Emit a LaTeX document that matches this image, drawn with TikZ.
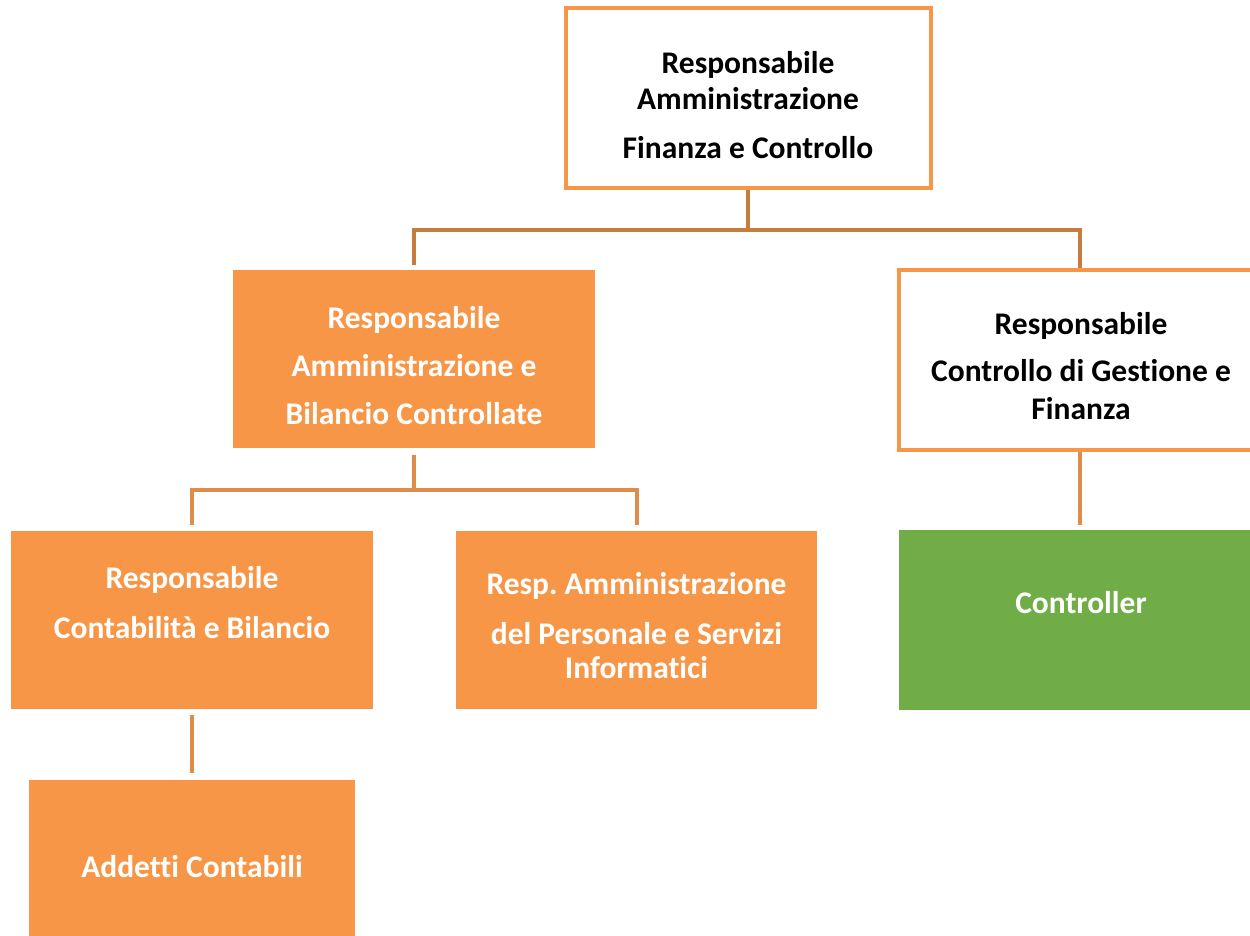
\documentclass[tikz,border=0pt]{standalone}
\usepackage{fontspec}
\setmainfont{Carlito}[Ligatures=NoCommon]
\frenchspacing
\definecolor{boxorange}{HTML}{F79646}
\definecolor{boxgreen}{HTML}{70AD47}
\definecolor{conndark}{HTML}{C77C3E}
\definecolor{connlight}{HTML}{DE8C4A}
\begin{document}
\begin{tikzpicture}[x=1pt,y=-1pt,
  outlinebox/.style={draw=boxorange,line width=4pt,fill=white,rectangle,inner sep=0pt},
  fillbox/.style={fill=boxorange,rectangle,inner sep=0pt},
  greenbox/.style={fill=boxgreen,rectangle,inner sep=0pt},
  lbl/.style={font=\fontsize{31.5}{36}\selectfont\bfseries,align=center,inner sep=0pt},
  conn/.style={draw=conndark,line width=4pt},
  connl/.style={draw=connlight,line width=4pt}]
\useasboundingbox (0,0) rectangle (1250,936);
% boxes
\node[outlinebox,minimum width=365pt,minimum height=180pt] (top) at (748,98.5) {};
\node[fillbox,minimum width=362pt,minimum height=178pt] (b2) at (414,359) {};
\node[outlinebox,minimum width=362pt,minimum height=180pt] (b3) at (1080,360) {};
\node[fillbox,minimum width=362pt,minimum height=178pt] (b4) at (192,620) {};
\node[fillbox,minimum width=361pt,minimum height=178pt] (b5) at (636.5,620) {};
\node[greenbox,minimum width=362pt,minimum height=180pt] (b6) at (1080,620) {};
\node[fillbox,minimum width=326pt,minimum height=178pt] (b7) at (192,869) {};
% labels
\node[lbl] (t1) at (748,105) {Responsabile\\Amministrazione\\[13pt]Finanza e Controllo};
\node[lbl,text=white] (t2) at (414,366) {Responsabile\\[12pt]Amministrazione e\\[12pt]Bilancio Controllate};
\node[lbl] (t3) at (1081,366) {Responsabile\\[11pt]Controllo di Gestione e\\[2pt]Finanza};
\node[lbl,text=white] (t4) at (192,603) {Responsabile\\[14pt]Contabilità e Bilancio};
\node[lbl,text=white] (t5) at (636.5,626) {Resp. Amministrazione\\[14pt]del Personale e Servizi\\[-2pt]Informatici};
\node[lbl,text=white] (t6) at (1081,603) {Controller};
\node[lbl,text=white] (t7) at (192,867) {Addetti Contabili};
% connectors
\coordinate (j1) at (748,230);
\coordinate (j2) at (414,490);
\draw[conn] (top.south) -- (j1);
\draw[conn] ([yshift=5pt]b2.north) |- (j1) -| (b3.north);
\draw[connl] ([yshift=-7pt]b2.south) -- (j2);
\draw[connl] ([yshift=6pt]b4.north) |- (j2) -| ([yshift=6pt]b5.north);
\draw[connl] (b3.south) -- ([yshift=5pt]b6.north);
\draw[connl] ([yshift=-6pt]b4.south) -- ([yshift=7pt]b7.north);
\end{tikzpicture}
\end{document}
